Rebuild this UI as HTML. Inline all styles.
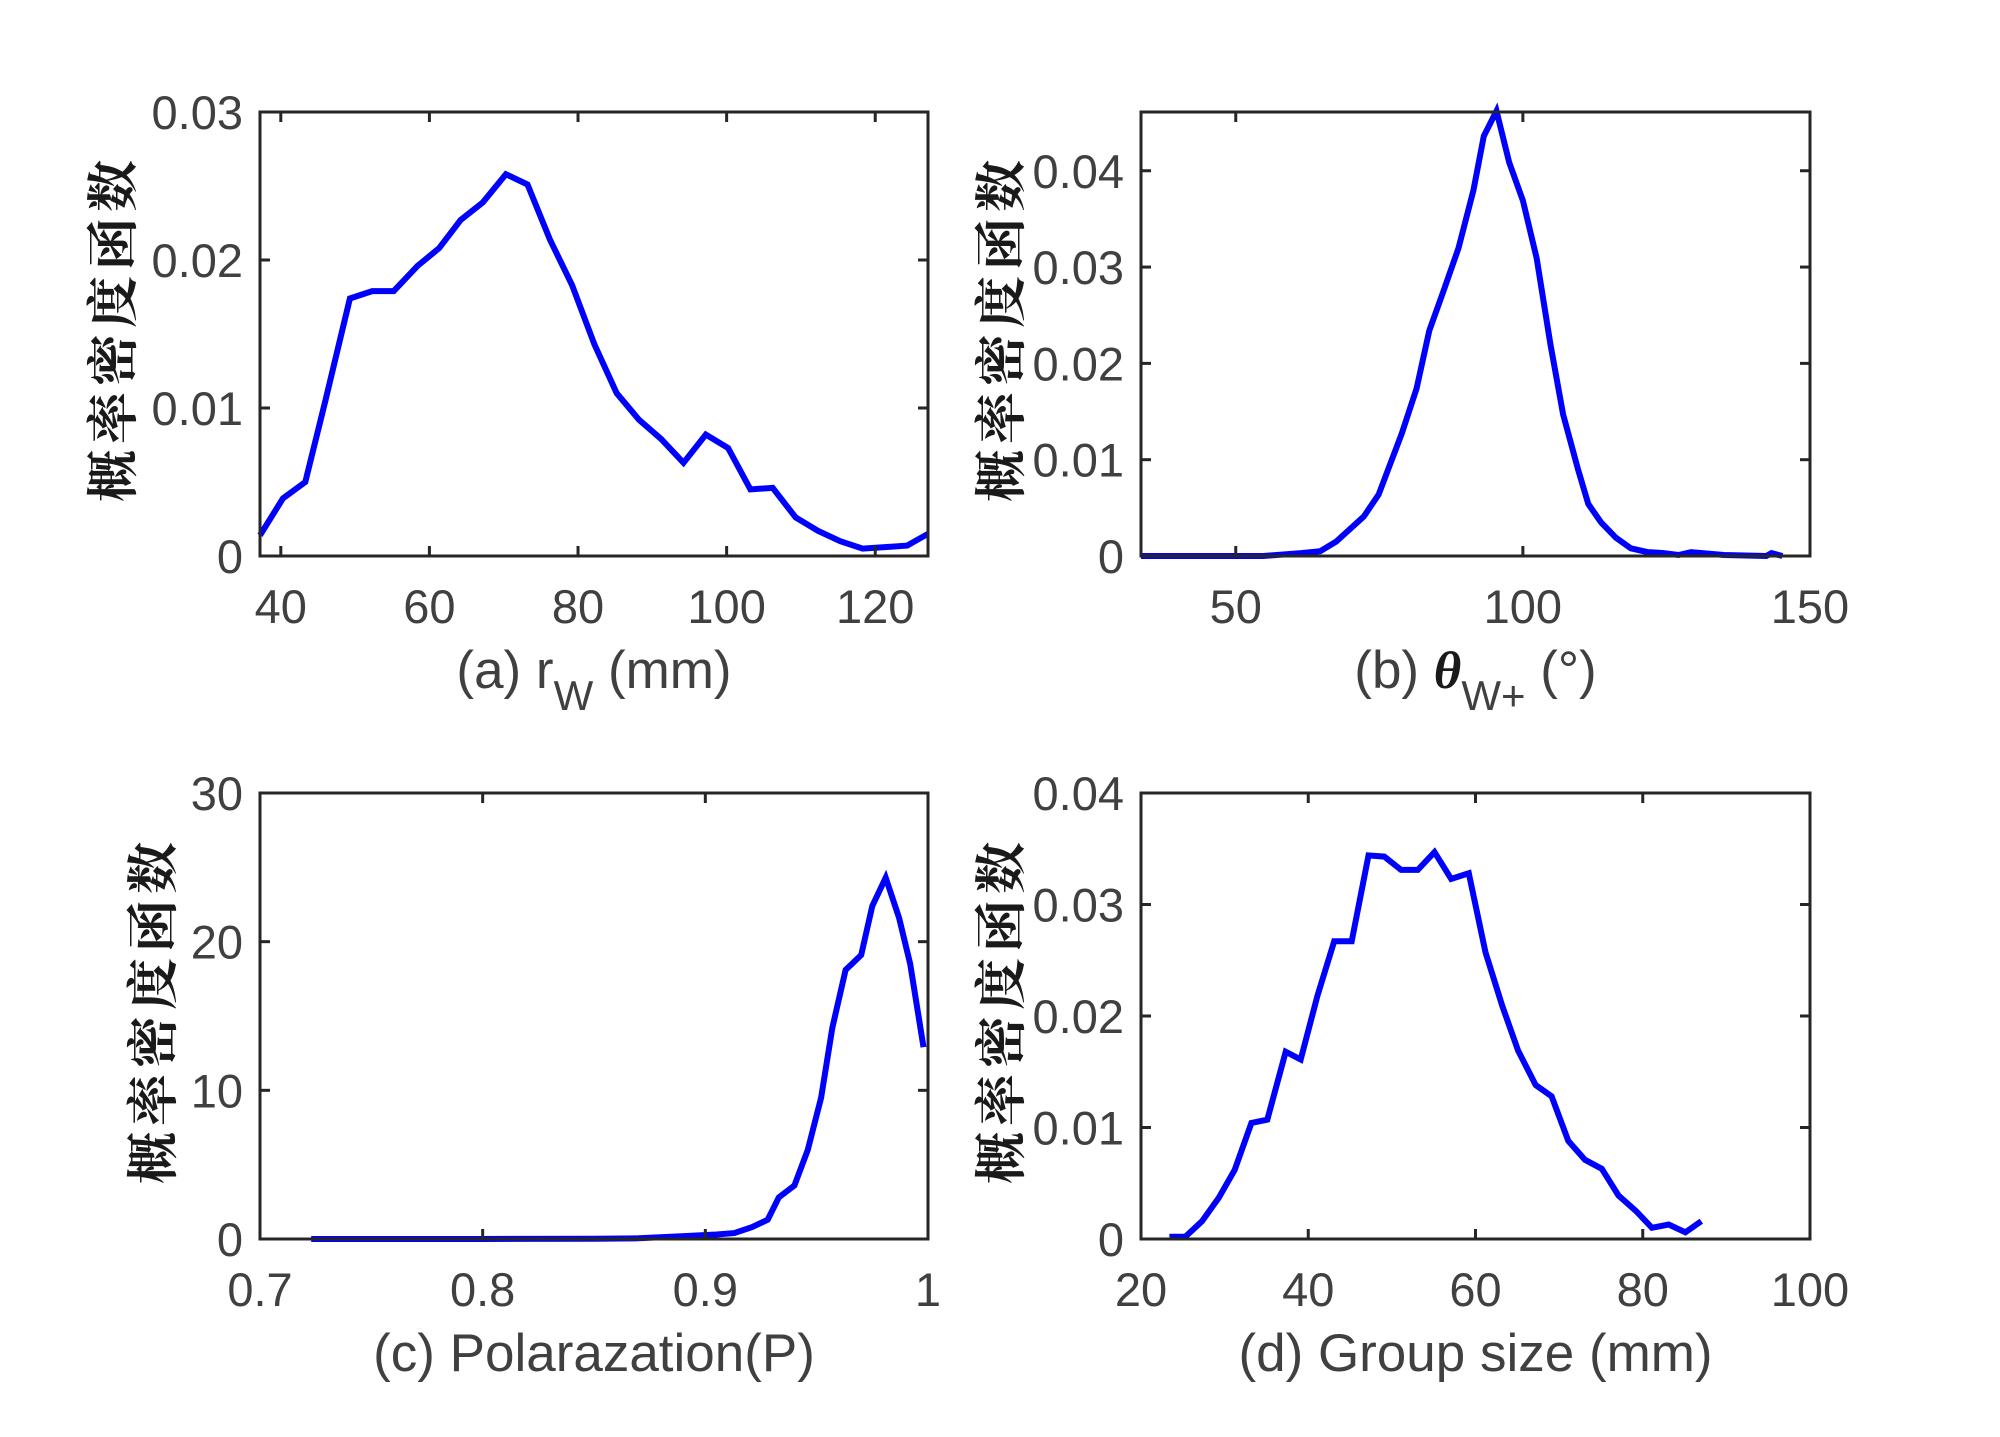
<!DOCTYPE html>
<html><head><meta charset="utf-8"><style>
html,body{margin:0;padding:0;background:#fff;}
svg{display:block;}
text{font-family:"Liberation Sans",Arial,sans-serif;fill:#404040;}
.cn{font-family:"Noto Serif CJK SC","WenQuanYi Zen Hei",serif;font-weight:bold;fill:#1a1a1a;}
</style></head><body>
<svg id="fig" width="2000" height="1437" viewBox="0 0 2000 1437" xmlns="http://www.w3.org/2000/svg"></svg>
<script>
// panel a: r_W (mm)
const aX = [37.2,40.3,43.3,46.0,49.3,52.3,55.2,58.4,61.3,64.2,67.2,70.3,73.2,76.2,79.2,82.2,85.2,88.2,91.2,94.2,97.2,100.2,103.2,106.2,109.3,112.3,115.3,118.3,121.3,124.3,127.1];
const aY = [0.0014,0.0039,0.0050,0.0105,0.0174,0.0179,0.0179,0.0196,0.0208,0.0227,0.0239,0.0258,0.0251,0.0214,0.0183,0.0143,0.0110,0.0092,0.0079,0.0063,0.0082,0.0073,0.0045,0.0046,0.0026,0.0017,0.0010,0.0005,0.0006,0.0007,0.0015];
// panel b: theta_W+
const bX = [33.5,54.8,61.4,64.7,67.5,72.3,74.9,78.9,81.5,83.7,86.1,88.8,91.4,93.2,95.4,97.6,100,102.4,104.8,107.0,109.6,111.4,113.6,116.2,118.8,121.7,124.5,127.1,129.3,135,142.4,143.3,145.2];
const bY = [0,0,0.0003,0.0005,0.0015,0.0041,0.0064,0.0127,0.0174,0.0234,0.0274,0.0320,0.0380,0.0436,0.0462,0.0409,0.0369,0.0309,0.0220,0.0147,0.0090,0.0054,0.0035,0.0019,0.0008,0.0004,0.0003,0.0001,0.0004,0.0001,0,0.0003,0];
// panel c: polarization
const cX = [0.723,0.80,0.85,0.87,0.887,0.905,0.913,0.921,0.928,0.933,0.940,0.946,0.952,0.957,0.963,0.970,0.975,0.981,0.987,0.992,0.998];
const cY = [0,0,0.02,0.05,0.17,0.3,0.4,0.8,1.3,2.8,3.6,6.0,9.5,14.2,18.1,19.1,22.4,24.3,21.6,18.5,12.9];
// panel d: group size
const dX = [23.4,25.3,27.3,29.3,31.2,33.2,35.1,37.3,39.1,41.1,43.1,45.2,47.2,49.1,51.1,53.1,55.1,57.1,59.2,61.2,63.2,65.1,67.2,69.1,71.1,73.1,75.1,77.1,79.2,81.1,83.1,85.1,87.0];
const dY = [0.0002,0.0002,0.0016,0.0037,0.0062,0.0104,0.0107,0.0168,0.0161,0.0218,0.0267,0.0267,0.0344,0.0343,0.0331,0.0331,0.0347,0.0323,0.0328,0.0257,0.0209,0.0169,0.0138,0.0128,0.0088,0.0071,0.0063,0.0039,0.0025,0.0010,0.0013,0.0006,0.0016];
const aXTicks=[40,60,80,100,120], aYTicks=[0,0.01,0.02,0.03];
const bXTicks=[50,100,150], bYTicks=[0,0.01,0.02,0.03,0.04];
const cXTicks=[0.7,0.8,0.9,1], cYTicks=[0,10,20,30];
const dXTicks=[20,40,60,80,100], dYTicks=[0,0.01,0.02,0.03,0.04];
const aXLab=["40","60","80","100","120"], aYLab=["0","0.01","0.02","0.03"];
const bXLab=["50","100","150"], bYLab=["0","0.01","0.02","0.03","0.04"];
const cXLab=["0.7","0.8","0.9","1"], cYLab=["0","10","20","30"];
const dXLab=["20","40","60","80","100"], dYLab=["0","0.01","0.02","0.03","0.04"];

const NS="http://www.w3.org/2000/svg";
const svg=document.getElementById('fig');
function mk(tag,attrs,parent){const e=document.createElementNS(NS,tag);for(const k in attrs)e.setAttribute(k,attrs[k]);(parent||svg).appendChild(e);return e;}

function panel(id,box,xr,yr,xs,ys,xt,xl,yt,yl,ylabOff,labelFn){
  const g=mk('g',{});
  
  
  const [L,T,R,B]=box;
  const sx=v=>L+(v-xr[0])/(xr[1]-xr[0])*(R-L);
  const sy=v=>B-(v-yr[0])/(yr[1]-yr[0])*(B-T);
  const pts=xs.map((x,i)=>sx(x).toFixed(1)+','+sy(ys[i]).toFixed(1)).join(' ');
  const pl=mk('polyline',{points:pts,fill:'none',stroke:'#0000ff','stroke-width':6,'stroke-linejoin':'miter'},g);
  
  
  xt.forEach((v,i)=>{const x=sx(v);
    mk('line',{x1:x,y1:B,x2:x,y2:B-10,stroke:'#262626','stroke-width':3},g);
    mk('line',{x1:x,y1:T,x2:x,y2:T+10,stroke:'#262626','stroke-width':3},g);
    const t=mk('text',{x:x,y:B+67,'font-size':47,'text-anchor':'middle'},g);t.textContent=xl[i];
    
    
  });
  yt.forEach((v,i)=>{const y=sy(v);
    mk('line',{x1:L,y1:y,x2:L+10,y2:y,stroke:'#262626','stroke-width':3},g);
    mk('line',{x1:R,y1:y,x2:R-10,y2:y,stroke:'#262626','stroke-width':3},g);
    const t=mk('text',{x:L-17,y:y+17,'font-size':47,'text-anchor':'end'},g);t.textContent=yl[i];
    
    
  });
  const r=mk('rect',{x:L,y:T,width:R-L,height:B-T,fill:'none',stroke:'#262626','stroke-width':3},g);
  
  
  const cy=(T+B)/2, cx=L-ylabOff;
  const yl2=mk('text',{x:cx+6,y:cy,'font-size':52,'letter-spacing':6,'text-anchor':'middle','dominant-baseline':'central',transform:`rotate(-90 ${cx} ${cy})`,'class':'cn'},g);
  yl2.textContent='概率密度函数';
  
  
  const xlab=mk('text',{x:(L+R)/2,y:B+132,'font-size':53,'text-anchor':'middle'},g);
  
  
  labelFn(xlab);
}
function ts(parent,txt,attrs){const s=mk('tspan',attrs||{},parent);s.textContent=txt;return s;}

panel('a',[260,112,928,556],[37.2,127.1],[0,0.03],aX,aY,aXTicks,aXLab,aYTicks,aYLab,151,t=>{
  ts(t,'(a) r');ts(t,'W',{dy:22,'font-size':42});ts(t,' (mm)',{dy:-22});});
panel('b',[1141,112,1810,556],[33.5,150],[0,0.0461],bX,bY,bXTicks,bXLab,bYTicks,bYLab,144,t=>{
  ts(t,'(b) ');ts(t,'θ',{'font-family':'"Liberation Serif",serif','font-style':'italic','font-weight':'bold',style:'fill:#1a1a1a'});
  ts(t,'W+',{dy:22,'font-size':42});ts(t,' (°)',{dy:-22});});
panel('c',[260,793,928,1239],[0.7,1],[0,30],cX,cY,cXTicks,cXLab,cYTicks,cYLab,111,t=>{t.textContent='(c) Polarazation(P)';});
panel('d',[1141,793,1810,1239],[20,100],[0,0.04],dX,dY,dXTicks,dXLab,dYTicks,dYLab,144,t=>{t.textContent='(d) Group size (mm)';});
</script>
</body></html>
